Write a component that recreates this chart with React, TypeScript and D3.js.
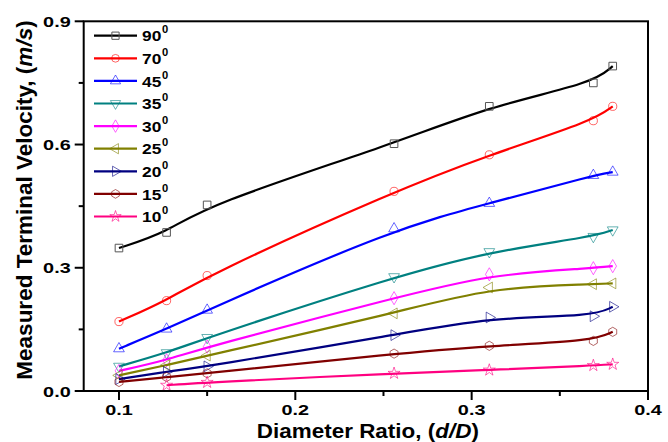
import React from "react";
import * as d3 from "d3";

const diameterRatio = [0.1, 0.127, 0.15, 0.256, 0.31, 0.369, 0.38];
const seriesLabels = ["90", "70", "45", "35", "30", "25", "20", "15", "10"];
const v90 = [0.348, 0.386, 0.453, 0.602, 0.693, 0.750, 0.791];
const v70 = [0.169, 0.220, 0.281, 0.486, 0.575, 0.658, 0.693];
const v45 = [0.103, 0.151, 0.197, 0.395, 0.457, 0.525, 0.533];
const v35 = [0.060, 0.093, 0.130, 0.278, 0.339, 0.376, 0.392];
const v30 = [0.049, 0.075, 0.108, 0.226, 0.284, 0.299, 0.304];
const v25 = [0.038, 0.063, 0.086, 0.189, 0.252, 0.260, 0.262];
const v20 = [0.029, 0.047, 0.060, 0.136, 0.179, 0.182, 0.205];
const v15 = [0.022, 0.034, 0.043, 0.091, 0.110, 0.122, 0.144];
const v10 = [null, 0.014, 0.021, 0.043, 0.051, 0.062, 0.065];
const xTicks = [0.1, 0.2, 0.3, 0.4];
const xMinorTicks = [0.15, 0.25, 0.35];
const yTicks = [0, 0.3, 0.6, 0.9];
const yMinorTicks = [0.15, 0.45, 0.75];

const seriesValues = [v90, v70, v45, v35, v30, v25, v20, v15, v10];
const colors = ["#000000", "#ff0000", "#0000ff", "#008080", "#ff00ff", "#808000", "#000080", "#800000", "#ff0080"];

const hexagon = {
  draw(ctx: any, size: number) {
    const r = Math.sqrt(size / (1.5 * Math.sqrt(3)));
    for (let i = 0; i < 6; i++) {
      const a = -Math.PI / 2 + (i * Math.PI) / 3;
      const px = r * Math.cos(a), py = r * Math.sin(a);
      if (i === 0) ctx.moveTo(px, py); else ctx.lineTo(px, py);
    }
    ctx.closePath();
  },
};

const markers: { type: any; rot: number; size: number }[] = [
  { type: d3.symbolSquare, rot: 0, size: 58 },
  { type: d3.symbolCircle, rot: 0, size: 52 },
  { type: d3.symbolTriangle, rot: 0, size: 50 },
  { type: d3.symbolTriangle, rot: 180, size: 50 },
  { type: d3.symbolDiamond, rot: 0, size: 50 },
  { type: d3.symbolTriangle, rot: -90, size: 50 },
  { type: d3.symbolTriangle, rot: 90, size: 50 },
  { type: hexagon, rot: 0, size: 55 },
  { type: d3.symbolStar, rot: 0, size: 45 },
];

const W = 668, H = 442;
const left = 83.7, right = 648, top = 21.3, bottom = 391;

export default function App() {
  const x = d3.scaleLinear().domain([0.08, 0.4]).range([left, right]);
  const y = d3.scaleLinear().domain([0, 0.9]).range([bottom, top]);
  const line = d3
    .line<[number, number]>()
    .x((d) => x(d[0]))
    .y((d) => y(d[1]))
    .curve(d3.curveBasis);

  const legX1 = 94, legX2 = 137, legY0 = 35.7, legDy = 22.6;

  return (
    <svg width={W} height={H} style={{ position: "absolute", left: 0, top: 0, background: "#fff" }}
      fontFamily="'Liberation Sans', Arial, sans-serif" fontWeight="bold">
      <rect x={0} y={0} width={W} height={H} fill="#fff" />
      {/* series */}
      {seriesValues.map((vals, si) => {
        const pts = diameterRatio
          .map((xv, i) => [xv, vals[i]] as [number, number | null])
          .filter((p) => p[1] !== null) as [number, number][];
        const sym = d3.symbol(markers[si].type, markers[si].size);
        return (
          <g key={si}>
            <path d={line(pts) || ""} fill="none" stroke={colors[si]} strokeWidth={2.2} />
            {pts.map((p, i) => (
              <path key={i} d={sym() || ""}
                transform={`translate(${x(p[0])},${y(p[1])}) rotate(${markers[si].rot})`}
                fill="none" stroke={si === 0 ? "#555" : colors[si]} strokeOpacity={si === 0 ? 1 : 0.6} strokeWidth={1} />
            ))}
          </g>
        );
      })}
      {/* legend */}
      {seriesLabels.map((lab, si) => {
        const ly = legY0 + si * legDy;
        const sym = d3.symbol(markers[si].type, markers[si].size * 0.9);
        return (
          <g key={"leg" + si}>
            <line x1={legX1} x2={legX2} y1={ly} y2={ly} stroke={colors[si]} strokeWidth={2.2} />
            <path d={sym() || ""} transform={`translate(${(legX1 + legX2) / 2},${ly}) rotate(${markers[si].rot})`}
              fill="none" stroke={si === 0 ? "#555" : colors[si]} strokeOpacity={si === 0 ? 1 : 0.6} strokeWidth={1} />
            <g transform={`translate(142,${ly + 5.6}) scale(1.12,1)`}>
              <text x={0} y={0} fontSize={15.5} fill="#000">{lab}</text>
              <text x={17.8} y={-8} fontSize={10} fill="#000">0</text>
            </g>
          </g>
        );
      })}
      {/* frame */}
      <rect x={left} y={top} width={right - left} height={bottom - top} fill="none" stroke="#000" strokeWidth={2} />
      {/* x ticks */}
      {xTicks.map((t) => (
        <g key={"xt" + t}>
          <line x1={x(t)} x2={x(t)} y1={bottom} y2={bottom + 9} stroke="#000" strokeWidth={2} />
          <g transform={`translate(${x(t)},${bottom + 23.5}) scale(1.28,1)`}>
            <text textAnchor="middle" fontSize={15.5} fill="#000">{d3.format(".1f")(t)}</text>
          </g>
        </g>
      ))}
      {xMinorTicks.map((t) => (
        <line key={"xm" + t} x1={x(t)} x2={x(t)} y1={bottom} y2={bottom + 5} stroke="#000" strokeWidth={2} />
      ))}
      {/* y ticks */}
      {yTicks.map((t) => (
        <g key={"yt" + t}>
          <line x1={left - 9} x2={left} y1={y(t)} y2={y(t)} stroke="#000" strokeWidth={2} />
          <g transform={`translate(${left - 13},${y(t) + 5.6}) scale(1.28,1)`}>
            <text textAnchor="end" fontSize={15.5} fill="#000">{d3.format(".1f")(t)}</text>
          </g>
        </g>
      ))}
      {yMinorTicks.map((t) => (
        <line key={"ym" + t} x1={left - 5} x2={left} y1={y(t)} y2={y(t)} stroke="#000" strokeWidth={2} />
      ))}
      {/* axis titles */}
      <g transform={`translate(${(left + right) / 2 + 2},437.5) scale(1.07,1)`}>
        <text textAnchor="middle" fontSize={21} fill="#000">
          Diameter Ratio, (<tspan fontStyle="italic">d/D</tspan>)
        </text>
      </g>
      <text transform={`translate(32,200) rotate(-90)`} textAnchor="middle" fontSize={22.5} fill="#000">
        Measured Terminal Velocity, (<tspan fontStyle="italic">m/s</tspan>)
      </text>
    </svg>
  );
}
